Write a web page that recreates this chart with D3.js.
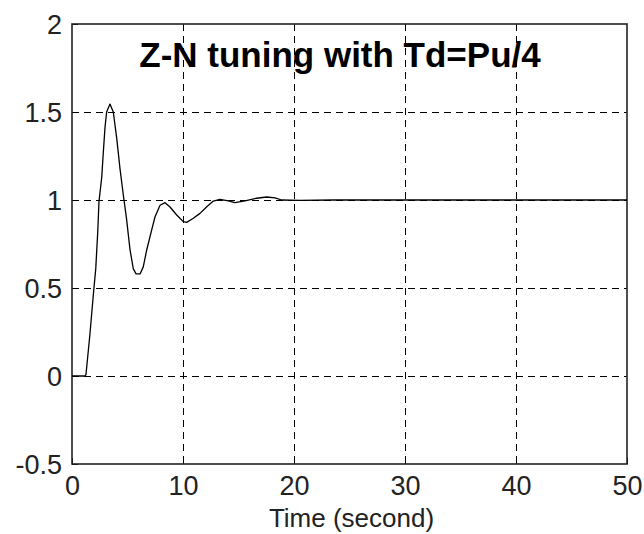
<!DOCTYPE html>
<html>
<head>
<meta charset="utf-8">
<script src="https://cdn.jsdelivr.net/npm/d3@7"></script>
<style>
  html, body { margin: 0; padding: 0; background: #fff; }
  svg { display: block; }
</style>
</head>
<body>
<script>
// Closed-loop step response, Ziegler-Nichols PID tuning (Td = Pu/4)
const timeSec = [0, 1.2, 1.26, 1.62, 1.92, 2.14, 2.32, 2.43, 2.68, 2.82, 2.97, 3.12, 3.42, 3.72, 4.03, 4.32, 4.62, 4.9, 5.23, 5.52, 5.77, 6.13, 6.42, 6.73, 7.18, 7.48, 7.93, 8.38, 8.83, 9.43, 10.03, 10.33, 10.93, 11.53, 12.14, 12.73, 13.33, 14.08, 14.68, 15.59, 16.64, 17.54, 18.29, 18.89, 20.54, 23.54, 50];
const response = [0, 0, 0.01, 0.24, 0.46, 0.61, 0.82, 0.99, 1.13, 1.27, 1.41, 1.50, 1.545, 1.50, 1.35, 1.18, 1.03, 0.9, 0.716, 0.61, 0.58, 0.58, 0.62, 0.716, 0.83, 0.905, 0.97, 0.985, 0.96, 0.915, 0.877, 0.873, 0.896, 0.924, 0.962, 0.994, 1.004, 0.995, 0.985, 0.995, 1.01, 1.017, 1.012, 1.0, 0.998, 1.0, 1.0];

const xTicks = [0, 10, 20, 30, 40, 50];
const yTicks = [-0.5, 0, 0.5, 1, 1.5, 2];
const titleText = "Z-N tuning with Td=Pu/4";
const xLabelText = "Time (second)";

const W = 644, H = 534;
const box = { left: 72, right: 627, top: 24, bottom: 464 };

const svg = d3.select("body").append("svg")
  .attr("width", W).attr("height", H);

const x = d3.scaleLinear().domain([0, 50]).range([box.left, box.right]);
const y = d3.scaleLinear().domain([-0.5, 2]).range([box.bottom, box.top]);

// dashed grid
const grid = svg.append("g")
  .attr("stroke", "#000").attr("stroke-width", 1)
  .attr("stroke-dasharray", "7,5").attr("shape-rendering", "crispEdges");
grid.selectAll("line.vx").data(xTicks.slice(1, -1)).join("line")
  .attr("x1", d => Math.round(x(d)) + 0.5).attr("x2", d => Math.round(x(d)) + 0.5)
  .attr("y1", box.top).attr("y2", box.bottom);
grid.selectAll("line.hy").data(yTicks.slice(1, -1)).join("line")
  .attr("y1", d => Math.round(y(d)) + 0.5).attr("y2", d => Math.round(y(d)) + 0.5)
  .attr("x1", box.left).attr("x2", box.right);

// axes: ticks point inward, labels outside
const font = "'Liberation Sans', Arial, sans-serif";
const xAxis = svg.append("g")
  .attr("transform", `translate(0,${box.bottom})`)
  .call(d3.axisBottom(x).tickValues(xTicks).tickFormat(d3.format("d"))
    .tickSizeInner(-6).tickSizeOuter(0).tickPadding(12));
const yAxis = svg.append("g")
  .attr("transform", `translate(${box.left},0)`)
  .call(d3.axisLeft(y).tickValues(yTicks).tickFormat(d => String(d))
    .tickSizeInner(-6).tickSizeOuter(0).tickPadding(10));
[xAxis, yAxis].forEach(a => {
  a.select(".domain").remove();
  a.selectAll(".tick line").attr("stroke", "#000").attr("stroke-width", 1);
  a.selectAll(".tick text")
    .attr("font-family", font).attr("font-size", 27).attr("fill", "#222");
});
xAxis.selectAll(".tick text").attr("dy", "0.71em");
yAxis.selectAll(".tick text").attr("dy", "0.36em");

// frame
svg.append("rect")
  .attr("x", box.left).attr("y", box.top)
  .attr("width", box.right - box.left).attr("height", box.bottom - box.top)
  .attr("fill", "none").attr("stroke", "#222").attr("stroke-width", 1.6);

// response curve
const pts = timeSec.map((t, i) => [t, response[i]]);
svg.append("path")
  .datum(pts)
  .attr("fill", "none").attr("stroke", "#000").attr("stroke-width", 1.3)
  .attr("stroke-linejoin", "round")
  .attr("d", d3.line().x(d => x(d[0])).y(d => y(d[1])));

// title
svg.append("text")
  .attr("x", 340).attr("y", 67)
  .attr("text-anchor", "middle")
  .attr("font-family", font).attr("font-weight", "bold").attr("font-size", 35)
  .attr("fill", "#000")
  .text(titleText);

// x label
svg.append("text")
  .attr("x", (box.left + box.right) / 2 + 2).attr("y", 527)
  .attr("text-anchor", "middle")
  .attr("font-family", font).attr("font-size", 26).attr("fill", "#222")
  .text(xLabelText);
</script>
</body>
</html>
